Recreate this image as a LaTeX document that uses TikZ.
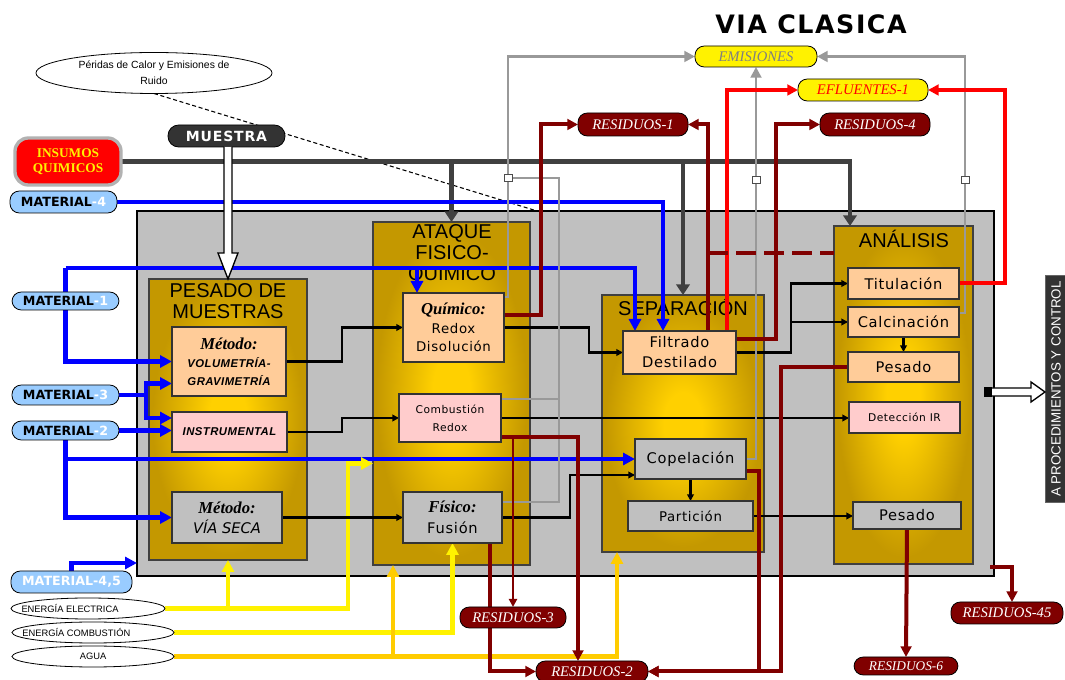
\documentclass[tikz,border=0pt]{standalone}
\usepackage{fontspec}
\setmainfont{Liberation Sans}
\newfontfamily\dvs{DejaVu Sans}
\newfontfamily\dvw[LetterSpace=5]{DejaVu Sans}
\newfontfamily\dvt[LetterSpace=6]{DejaVu Sans}
\newfontfamily\lsr{Liberation Serif}
\newfontfamily\lsbw[LetterSpace=4]{Liberation Sans}
\usetikzlibrary{arrows.meta,calc,fit,shapes.geometric}
\pgfdeclarelayer{bg}
\pgfdeclarelayer{fg}
\pgfsetlayers{bg,main,fg}
\newcommand\fsz[2]{\fontsize{#1}{#2}\selectfont}
\newcommand\metf{\lsr\bfseries\itshape\fontsize{12.5}{14}\selectfont}
\newcommand\volf{\lsbw\bfseries\itshape\fontsize{8.5}{11}\selectfont}
\definecolor{boxgray}{HTML}{C0C0C0}
\definecolor{peach}{HTML}{FFCC99}
\definecolor{pinkb}{HTML}{FFCCCC}
\definecolor{dred}{HTML}{800000}
\definecolor{lblue}{HTML}{99CCFF}
\definecolor{dgray}{HTML}{404040}
\definecolor{pillgray}{HTML}{333333}
\definecolor{egray}{HTML}{999999}
\definecolor{goldin}{RGB}{255,208,0}
\definecolor{goldout}{RGB}{196,152,0}
\definecolor{orng}{HTML}{FFCC00}
\pgfdeclareradialshading{goldsh}{\pgfpoint{0bp}{0bp}}{color(0bp)=(goldin); color(6bp)=(goldin); color(24bp)=(goldout); color(50bp)=(goldout)}
\tikzset{
  every node/.style={inner sep=0pt, outer sep=0pt},
  sz/.style 2 args={minimum width={#1*0.75pt}, minimum height={#2*0.75pt}},
  gbox/.style={draw=black!75, line width=0.8pt, shading=goldsh},
  ibox/.style={draw=black!80, line width=0.8pt, align=center},
  pill/.style={draw=black, line width=0.6pt, rounded corners=7pt, align=center},
  resid/.style={pill, fill=dred, text=white, font=\lsr\itshape\fsz{11}{12}},
  ell/.style={ellipse, draw=black, line width=0.6pt, fill=white, align=center},
  matp/.style={pill, fill=lblue, font=\dvs\bfseries\fsz{9.5}{10}},
  btitle/.style={align=center, font=\fsz{15}{15.75}},
  sqr/.style={draw=black!70, fill=white, line width=0.6pt, minimum width=6pt, minimum height=5pt},
  bl/.style={draw=blue, line width=3.5pt, -{Triangle[length=9pt,width=9pt]}},
  dg/.style={draw=dgray, line width=3.5pt, -{Triangle[length=8pt,width=10pt]}},
  bk/.style={draw=black, line width=2pt, -{Triangle[length=5pt,width=5pt]}},
  eg/.style={draw=egray, line width=2.2pt, -{Triangle[length=8pt,width=8pt]}},
  rd/.style={draw=red, line width=3pt, -{Triangle[length=8pt,width=8pt]}},
  dr/.style={draw=dred, line width=3pt, -{Triangle[length=8pt,width=8pt]}},
  drt/.style={draw=dred, line width=2.2pt, -{Triangle[length=6pt,width=6pt]}},
  drd/.style={draw=dred, line width=3pt, dash pattern=on 15pt off 6pt},
  yl/.style={draw=yellow, line width=3.5pt, -{Triangle[length=9pt,width=9pt]}},
  og/.style={draw=orng, line width=3.5pt, -{Triangle[length=9pt,width=9pt]}},
  hollow/.style={draw=black, fill=white, line width=1pt},
}
\begin{document}
\begin{tikzpicture}[x=0.75pt,y=-0.75pt]
\useasboundingbox (0,0) rectangle (1065,680);
\begin{pgfonlayer}{bg}
\fill[white] (0,0) rectangle (1065,680);
\node[fill=boxgray, draw=black, line width=1.5pt, fit={(137,211) (994,576)}] (big) {};
\node[gbox, fit={(149,279) (307,560)}] (pes) {};
\node[gbox, fit={(373,222) (530,565)}] (ata) {};
\node[gbox, fit={(602,295) (764,552)}] (sep) {};
\node[gbox, fit={(834,226) (973,564)}] (ana) {};
\node[btitle] (pesT) at (228,301) {PESADO DE\\MUESTRAS};
\node[btitle] (ataT) at (452,254) {ATAQUE\\FISICO-\\QUIMICO};
\node[btitle] (sepT) at (683,307) {SEPARACIÓN};
\node[btitle] (anaT) at (904,239) {ANÁLISIS};
\end{pgfonlayer}

\begin{pgfonlayer}{fg}
\node[font=\dvt\bfseries\fsz{19}{22}] (title) at (811,24) {VIA CLASICA};
% inner boxes
\node[ibox, fill=peach, sz={114}{69}, font=\fsz{8.5}{13}] (vol) at (229,361.5) {{\metf Método:}\\[1pt]{\volf VOLUMETRÍA-}\\{\volf GRAVIMETRÍA}};
\node[ibox, fill=pinkb, sz={115}{40}] (ins) at (229.5,432) {{\volf INSTRUMENTAL}};
\node[ibox, fill=boxgray, sz={110}{51}, font=\fsz{11}{15}] (vseca) at (227,517.5) {{\metf Método:}\\{\dvs\itshape\fsz{11}{13}VÍA SECA}};
\node[ibox, fill=peach, sz={101}{69}, font=\dvw\fsz{10}{14}] (quim) at (453.5,327.5) {{\metf Químico:}\\Redox\\Disolución};
\node[ibox, fill=pinkb, sz={102}{48}, font=\dvw\fsz{8}{13.5}] (comb) at (450,418) {Combustión\\Redox};
\node[ibox, fill=boxgray, sz={99}{51}, font=\dvw\fsz{11}{15.5}] (fis) at (452.5,517.5) {{\metf Físico:}\\Fusión};
\node[ibox, fill=peach, sz={113}{43}, font=\dvw\fsz{11}{15}] (filt) at (679.5,352.5) {Filtrado\\Destilado};
\node[ibox, fill=boxgray, sz={111}{40}, font=\dvw\fsz{11}{13}] (cop) at (690.5,459) {Copelación};
\node[ibox, fill=boxgray, sz={125}{30}, font=\dvw\fsz{10}{12}] (part) at (690.5,516) {Partición};
\node[ibox, fill=peach, sz={111}{31}, font=\dvw\fsz{11}{13}] (tit) at (903.5,283.5) {Titulación};
\node[ibox, fill=peach, sz={111}{30}, font=\dvw\fsz{11}{13}] (calc) at (903.5,322) {Calcinación};
\node[ibox, fill=peach, sz={111}{30}, font=\dvw\fsz{11}{13}] (pesa) at (903.5,367) {Pesado};
\node[ibox, fill=pinkb, sz={111}{31}, font=\dvw\fsz{8}{10}] (det) at (904.5,417.5) {Detección IR};
\node[ibox, fill=boxgray, sz={108}{27}, font=\dvw\fsz{11}{13}] (pesg) at (907,515.5) {Pesado};
% inputs
\node[ell, minimum width=177pt, minimum height=30.75pt, font=\fsz{7.8}{12}] (perd) at (154,73) {Péridas de Calor y Emisiones de\\Ruido};
\node[pill, fill=pillgray, text=white, rounded corners=8pt, font=\dvt\bfseries\fsz{10.5}{11}, sz={117}{22}] (mues) at (226.5,136) {MUESTRA};
\node[draw=black!30, line width=2.5pt, fill=red, rounded corners=10pt, align=center, text=yellow, font=\lsr\bfseries\fsz{10}{11}, sz={106}{47}] (insu) at (68,161.5) {INSUMOS\\QUIMICOS};
\node[matp, sz={107}{22}] (m4) at (63.5,202) {MATERIAL\textcolor{white}{-4}};
\node[matp, sz={107}{18}] (m1) at (65.5,301) {MATERIAL\textcolor{white}{-1}};
\node[matp, sz={107}{20}] (m3) at (65.5,395) {MATERIAL\textcolor{white}{-3}};
\node[matp, sz={107}{19}] (m2) at (65.5,430.5) {MATERIAL\textcolor{white}{-2}};
\node[matp, text=white, sz={121}{22}, font=\dvs\bfseries\fsz{9.5}{10}] (m45) at (71.5,582) {MATERIAL-4,5};
\node[ell, minimum width=115.5pt, minimum height=15.75pt, font=\fsz{7}{8}] (ee) at (88,608.5) {\makebox[0pt]{ENERGÍA ELECTRICA\hspace{27pt}}};
\node[ell, minimum width=121.5pt, minimum height=15.75pt, font=\fsz{7}{8}] (ec) at (93,632.5) {\makebox[0pt]{ENERGÍA COMBUSTIÓN\hspace{25pt}}};
\node[ell, minimum width=121.5pt, minimum height=15.75pt, font=\fsz{7}{8}] (ag) at (93,656.5) {AGUA};
% outputs
\node[pill, fill=yellow, text=black!50, font=\lsr\itshape\fsz{11}{12}, sz={122}{21}] (emi) at (756,56.5) {EMISIONES};
\node[pill, fill=yellow, text=red, font=\lsr\itshape\fsz{11}{12}, sz={130}{22}] (efl) at (863,90) {EFLUENTES-1};
\node[resid, sz={110}{23}] (r1) at (633,124.5) {RESIDUOS-1};
\node[resid, sz={110}{23}] (r4) at (875,124.5) {RESIDUOS-4};
\node[resid, sz={106}{21}] (r3) at (513,617.5) {RESIDUOS-3};
\node[resid, sz={112}{21}] (r2) at (592,671.5) {RESIDUOS-2};
\node[resid, font=\lsr\itshape\fsz{10}{11}, sz={104}{18}] (r6) at (906,666) {RESIDUOS-6};
\node[resid, sz={112}{22}] (r45) at (1007,613) {RESIDUOS-45};
\node[fill=pillgray, draw=black!60, rotate=90, minimum width=170pt, minimum height=16.5pt, text=white, font=\fsz{10}{12}] (proc) at (1056,389) {A PROCEDIMIENTOS Y CONTROL};
% junction squares
\node[sqr] (sq1) at (508,178) {};
\node[sqr] (sq2) at (756,180) {};
\node[sqr] (sq3) at (965,180) {};
\node[fill=black, minimum width=6pt, minimum height=8pt] (sqb) at (988,392) {};
\end{pgfonlayer}

% ---- connectors ----
% dashed heat/noise line
\draw[black, line width=0.8pt, dash pattern=on 3pt off 2pt] (perd.south) -- ($(big.north west)+(400,0)$);
% chemical inputs
\draw[dg] (insu.east) -| ($(ana.north west)+(16,0)$);
\draw[dg] (insu.east -| ata.north) -- (ata.north);
\draw[dg] (insu.east -| sep.north) -- (sep.north);
% materials (blue)
\draw[bl] (m4.east) -| ($(filt.north west)+(40,0)$);
\coordinate (b1) at ($(m1.north)+(0,-24)$);
\draw[bl] (b1) -| ($(filt.north west)+(12,0)$);
\draw[bl] (b1) |- (vol.west);
\coordinate (q1) at ($(quim.north west)+(14,0)$);
\draw[bl] (q1 |- b1) -- (q1);
\coordinate (j3) at ($(m3.east)+(27,0)$);
\draw[bl] (m3.east) -- (j3) |- ($(vol.west)+(0,22)$);
\draw[bl] (j3) |- ($(ins.west)+(0,-14)$);
\draw[bl] (m2.east) -- (m2.east -| ins.west);
\draw[bl] (m2.south) |- (vseca.west);
\draw[bl] (m2.south |- cop.west) -- (cop.west);
\draw[bl] (m45.north) |- ($(big.south west)+(0,-13)$);
% energy and water
\draw[yl] (ee.east) -| (pes.south);
\coordinate (y1) at ($(ata.west)+(-25,70)$);
\draw[yl] (pes.south |- ee.east) -| (y1) -- (y1 -| ata.west);
\draw[yl] (ec.east) -| (fis.south);
\coordinate (o1) at ($(sep.south west)+(15,0)$);
\draw[og] (ag.east) -| (o1);
\coordinate (o2) at ($(ata.south west)+(20,0)$);
\draw[og] (o2 |- ag.east) -- (o2);
% process flow (black)
\draw[bk] (vol.east) -- ++(56,0) |- (quim.west);
\draw[bk] (ins.east) -- ++(55,0) |- (comb.west);
\draw[bk] (vseca.east) -- (vseca.east -| fis.west);
\draw[bk] (quim.east) -- ++(85,0) |- (filt.west);
\draw[bk] (comb.east) -- (comb.east -| det.west);
\draw[bk] (fis.east) -- ++(68,0) |- ($(cop.west)+(0,16)$);
\draw[bk] (filt.east) -- ++(55,0) |- (tit.west);
\draw[bk] ($(filt.east)+(55,0)$) |- (calc.west);
\draw[bk] (calc.south) -- (pesa.north);
\draw[bk] (cop.south) -- (cop.south |- part.north);
\draw[bk] (part.east) -- (part.east -| pesg.west);
% emissions (gray)
\draw[eg] ($(quim.north east)+(0,4)$) -- ++(4,0) |- (emi.west);
\coordinate (g1) at ($(comb.north east)+(58,5)$);
\draw[eg,-] (sq1) -| (g1) -- (g1 -| comb.east);
\draw[eg,-] (g1) |- ($(fis.north east)+(0,10)$);
\draw[eg] (cop.east) -| (emi.south);
\draw[eg] ($(calc.north east)+(0,6)$) -- ++(6,0) |- (emi.east);
% effluents (red)
\draw[rd] ($(filt.north east)+(-9,0)$) |- (efl.west);
\draw[rd] (tit.east) -- ++(46,0) |- (efl.east);
% residues (dark red)
\draw[dr] ($(quim.south east)+(0,-47)$) -- ++(37,0) |- (r1.west);
\draw[dr] ($(filt.north west)+(85,0)$) |- (r1.east);
\coordinate (d1) at ($(filt.north west)+(85,-78)$);
\draw[drd] (d1) -- (d1 -| ana.west);
\draw[dr] ($(filt.north east)+(0,8)$) -- ++(40,0) |- (r4.west);
\draw[dr] ($(comb.south east)+(0,-5)$) -| ($(r2.north)+(-14,0)$);
\draw[drt] ($(comb.south east)+(12,-5)$) -- (r3.north);
\draw[dr] ($(fis.south west)+(87,0)$) |- (r2.west);
\draw[dr] ($(cop.east)+(0,12)$) -- ++(13,0) |- (r2.east);
\draw[dr] (pesa.west) -- ++(-67,0) |- (r2.east);
\draw[dr] (pesg.south) -- (r6.north);
\draw[dr] ($(big.south east)+(-4,-9)$) -| ($(r45.north)+(5,0)$);

\begin{pgfonlayer}{fg}
% sample input (hollow double arrow)
\coordinate (ma) at (mues.south -| pes.north);
\draw[hollow] ($(ma)+(-4,0)$) -- ($(pes.north)+(-4,-26)$) -- ($(pes.north)+(-10,-26)$) -- (pes.north) -- ($(pes.north)+(10,-26)$) -- ($(pes.north)+(4,-26)$) -- ($(ma)+(4,0)$);
% output to procedures
\coordinate (pt) at (sqb.east -| proc.north);
\draw[hollow] ($(sqb.east)+(0,-4)$) -- ($(pt)+(-14,-4)$) -- ($(pt)+(-14,-10)$) -- (pt) -- ($(pt)+(-14,10)$) -- ($(pt)+(-14,4)$) -- ($(sqb.east)+(0,4)$);
\end{pgfonlayer}
\end{tikzpicture}
\end{document}
